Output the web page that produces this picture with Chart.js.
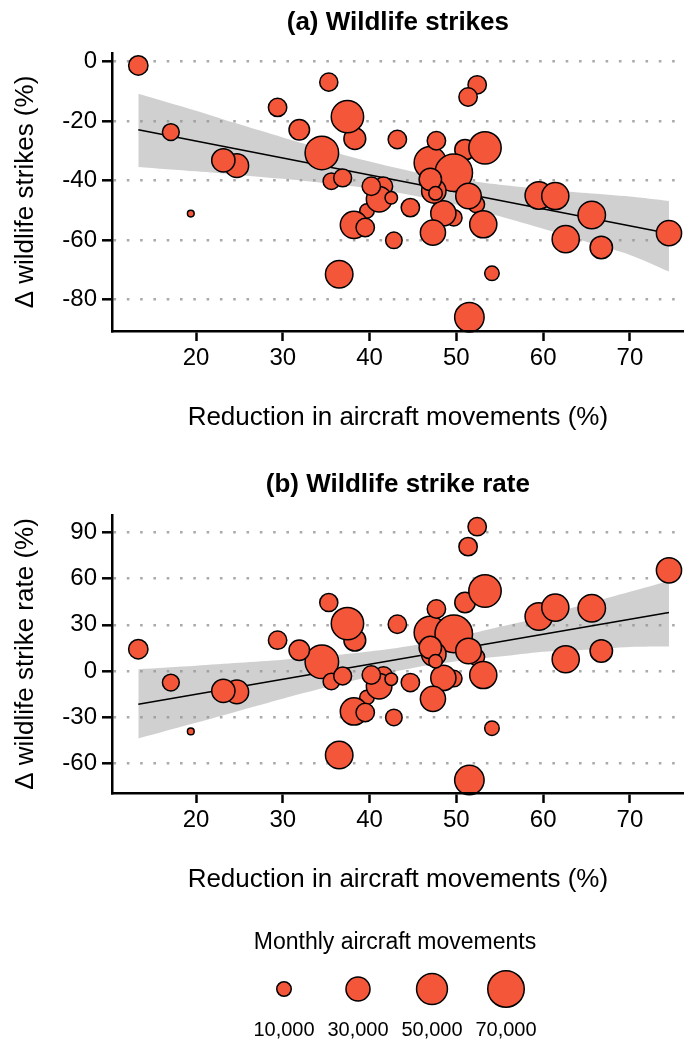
<!DOCTYPE html>
<html>
<head>
<meta charset="utf-8">
<script src="https://cdn.jsdelivr.net/npm/chart.js@4/dist/chart.umd.min.js"></script>
<style>
  html, body { margin: 0; padding: 0; background: #fff; }
  body { width: 686px; height: 1041px; position: relative; overflow: hidden; }
  canvas { position: absolute; left: 0; }
</style>
</head>
<body>
<!-- panels are a bit wider than the page: Chart.js keeps a bubble-radius margin on the right -->
<canvas id="strikes" width="704" height="440" style="top:0"></canvas>
<canvas id="rate" width="704" height="440" style="top:462px"></canvas>
<canvas id="legend" width="686" height="121" style="top:920px"></canvas>
<script>
// one entry per airport, listed in drawing order (later ones sit on top)
const reduction = [41.6, 49.7, 52.3, 39.7, 51.0, 34.5, 47.0, 53.3, 49.7, 51.5, 36.5, 59.5, 65.6, 38.2, 53.1, 61.4,
    62.6, 41.1, 48.5, 47.3, 74.5, 47.4, 51.4, 24.7, 23.15, 47.0, 66.7, 38.3, 37.45, 31.9, 13.35, 29.4,
    35.3, 39.5, 40.2, 43.2, 44.7, 47.7, 52.4, 51.35, 35.6, 36.9, 17.1, 42.8, 54.1, 47.6, 42.5, 19.4];
const strikeChange = [-41.9, -52.5, -48.0, -50.2, -29.6, -30.7, -34.0, -29.0, -37.4, -86.0, -71.5, -45.0, -51.6, -54.9, -54.7, -45.2,
    -59.7, -46.3, -51.0, -57.5, -57.7, -43.5, -45.2, -35.0, -33.2, -39.6, -62.5, -25.9, -18.5, -22.9, -1.3, -15.4,
    -6.9, -55.8, -41.9, -26.2, -49.1, -26.6, -7.8, -11.9, -40.2, -39.1, -23.7, -60.1, -71.2, -44.3, -45.8, -51.1];
const rateChange = [-3.3, -5.0, 9.0, -17.3, 44.5, 5.9, 25.0, 52.0, 24.1, -71.1, -54.8, 35.4, 40.8, -26.4, -2.7, 41.2,
    7.6, -10.0, -4.6, -18.2, 65.5, 10.9, 13.0, -13.7, -13.0, 15.2, 13.0, 20.0, 30.8, 13.5, 14.1, 20.0,
    44.5, -27.1, -2.7, 30.4, -7.6, 40.3, 93.9, 80.9, -6.9, -3.3, -7.6, -30.3, -37.3, 6.3, -5.4, -39.4];
const movements = [17000, 13500, 13500, 10000, 21500, 59000, 55000, 55000, 74000, 45500, 39500, 39500, 39500, 39000, 38500, 38500,
    38500, 34000, 33000, 33000, 33000, 31000, 34000, 29000, 28000, 26000, 26000, 24500, 55000, 21500, 19000, 17000,
    16500, 17000, 17000, 17000, 17000, 17000, 17000, 17000, 13500, 16000, 14000, 13500, 10000, 8500, 7000, 500];

// fitted line and 95% band
const fitX = [13.35, 74.5];
const strikeFit = [-22.9, -57.8];
const rateFit = [-21.7, 38.0];
const bandX = [13.35, 20, 25, 30, 35, 40, 45, 50, 55, 60, 65, 70, 74.5];
const strikeUpper = [-10.8, -16.5, -21.1, -25.5, -29.7, -33.6, -37.0, -39.5, -41.4, -42.8, -44.2, -45.4, -46.9];
const strikeLower = [-35.4, -36.9, -38.1, -39.4, -40.9, -42.6, -45.0, -48.1, -52.0, -56.2, -60.6, -65.0, -70.6];
const rateUpper = [1.1, 3.4, 5.3, 7.3, 9.7, 12.6, 16.5, 22.0, 28.7, 35.3, 43.8, 51.6, 58.6];
const rateLower = [-44.0, -33.8, -25.9, -18.1, -10.7, -3.8, 1.9, 6.2, 9.3, 12.5, 13.8, 15.6, 15.9];

const xTicks = [20, 30, 40, 50, 60, 70];
const strikeTicks = [-80, -60, -40, -20, 0];
const rateTicks = [-60, -30, 0, 30, 60, 90];

const legendValues = [10000, 30000, 50000, 70000];
const legendLabels = ['10,000', '30,000', '50,000', '70,000'];

const FILL = '#f4563a';
const FONT = "'Liberation Sans', Arial, Helvetica, sans-serif";
Chart.defaults.font.family = FONT;
Chart.defaults.color = '#000';

// area of the circle grows linearly with movements
function radiusFor(v) {
    return Math.sqrt(14.5 + 4.95 * v / 1000) - 0.75;
}

const panelTitle = {
    id: 'panelTitle',
    afterDraw(chart, args, opts) {
        const { ctx, chartArea } = chart;
        ctx.save();
        ctx.font = opts.font;
        ctx.fillStyle = '#000';
        ctx.textAlign = 'center';
        ctx.textBaseline = 'middle';
        ctx.fillText(opts.text, (chartArea.left + chartArea.right) / 2, opts.y);
        ctx.restore();
    }
};

function toPoints(xs, ys) {
    return xs.map((x, i) => ({ x: x, y: ys[i] }));
}

function makePanel(id, title, yTitle, yValues, yTicks, yMin, yMax, fit, upper, lower) {
    const bubbles = reduction.map((x, i) => ({ x: x, y: yValues[i], r: radiusFor(movements[i]) }));
    new Chart(document.getElementById(id), {
        type: 'bubble',
        data: {
            datasets: [
                {
                    data: bubbles,
                    backgroundColor: FILL,
                    borderColor: '#000',
                    borderWidth: 1.5,
                    clip: false
                },
                {
                    type: 'line',
                    data: toPoints(fitX, fit),
                    borderColor: '#000',
                    borderWidth: 1.6,
                    pointRadius: 0,
                    tension: 0,
                    fill: false
                },
                {
                    type: 'line',
                    data: toPoints(bandX, upper),
                    borderWidth: 0,
                    pointRadius: 0,
                    tension: 0.3,
                    backgroundColor: 'rgba(150,150,150,0.45)',
                    fill: '+1'
                },
                {
                    type: 'line',
                    data: toPoints(bandX, lower),
                    borderWidth: 0,
                    pointRadius: 0,
                    tension: 0.3,
                    fill: false
                }
            ]
        },
        options: {
            responsive: false,
            animation: false,
            events: [],
            layout: { padding: { top: 53, right: 0, left: 0, bottom: 0 } },
            plugins: {
                legend: { display: false },
                tooltip: { enabled: false },
                panelTitle: { text: title, y: 23, font: 'bold 26px ' + FONT }
            },
            scales: {
                x: {
                    type: 'linear',
                    min: 10.32,
                    max: 76.2,
                    afterBuildTicks: s => { s.ticks = xTicks.map(v => ({ value: v })); },
                    afterFit: s => {
                        s.height = 109;
                        s.paddingLeft = 0;
                        s.paddingRight = 0;
                    },
                    grid: { drawOnChartArea: false, tickLength: 10, tickWidth: 2.5, tickColor: '#000' },
                    border: { color: '#000', width: 2.5, z: 1 },
                    ticks: { font: { size: 24 }, padding: 3, maxRotation: 0 },
                    title: {
                        display: true,
                        text: 'Reduction in aircraft movements (%)',
                        font: { size: 26 },
                        padding: { top: 0, bottom: 6.4 }
                    }
                },
                y: {
                    type: 'linear',
                    min: yMin,
                    max: yMax,
                    afterBuildTicks: s => { s.ticks = yTicks.map(v => ({ value: v })); },
                    afterFit: s => {
                        s.width = 112;
                        s.paddingTop = 0;
                        s.paddingBottom = 0;
                    },
                    grid: {
                        color: '#aaaaaa',
                        lineWidth: 2.6,
                        tickLength: 10,
                        tickWidth: 2.5,
                        tickColor: '#000',
                        tickBorderDash: []
                    },
                    border: { color: '#000', width: 2.5, z: 1, dash: [2.6, 10.7], dashOffset: 0 },
                    ticks: { font: { size: 24 }, padding: 5 },
                    title: {
                        display: true,
                        text: yTitle,
                        font: { size: 26 },
                        padding: { top: 10.4, bottom: 0 }
                    }
                }
            }
        },
        plugins: [panelTitle]
    });
}

makePanel('strikes', '(a) Wildlife strikes', 'Δ wildlife strikes (%)',
    strikeChange, strikeTicks, -90.6, 2.9, strikeFit, strikeUpper, strikeLower);
makePanel('rate', '(b) Wildlife strike rate', 'Δ wildlife strike rate (%)',
    rateChange, rateTicks, -79.5, 101.5, rateFit, rateUpper, rateLower);

// size legend
new Chart(document.getElementById('legend'), {
    type: 'bubble',
    data: {
        datasets: [{
            data: legendValues.map((v, i) => ({ x: i, y: 0, r: radiusFor(v) })),
            backgroundColor: FILL,
            borderColor: '#000',
            borderWidth: 1.5,
            clip: false
        }]
    },
    options: {
        responsive: false,
        animation: false,
        events: [],
        layout: { padding: { top: 50, left: 247, right: 143, bottom: 0 } },
        plugins: {
            legend: { display: false },
            tooltip: { enabled: false },
            panelTitle: { text: 'Monthly aircraft movements', y: 23, font: '23px ' + FONT }
        },
        scales: {
            x: {
                type: 'linear',
                min: -0.5,
                max: 3.5,
                afterBuildTicks: s => { s.ticks = legendValues.map((v, i) => ({ value: i })); },
                afterFit: s => {
                    s.height = 33;
                    s.paddingLeft = 0;
                    s.paddingRight = 0;
                },
                grid: { display: false, drawTicks: false },
                border: { display: false },
                ticks: { font: { size: 20 }, padding: 10, callback: (v, i) => legendLabels[i] }
            },
            y: { display: false, min: -1, max: 1 }
        }
    },
    plugins: [panelTitle]
});
</script>
</body>
</html>
